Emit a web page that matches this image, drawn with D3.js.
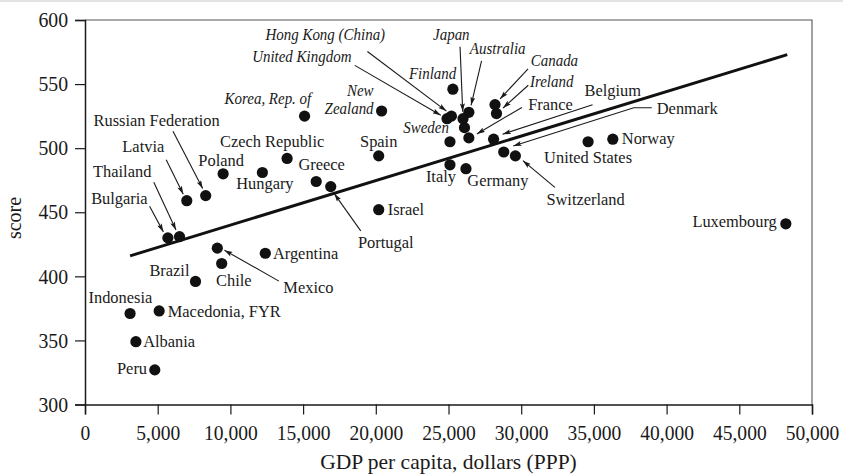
<!DOCTYPE html>
<html>
<head>
<meta charset="utf-8">
<script src="https://cdn.jsdelivr.net/npm/d3@7"></script>
<style>
  html, body { margin: 0; padding: 0; background: #fff; }
  svg { display: block; }
  text { font-family: "Liberation Serif", "Times New Roman", serif; fill: #1a1a1a; }
</style>
</head>
<body>
<script>
// Reading score against GDP per capita (PPP dollars)
const countries = ["Luxembourg", "Norway", "United States", "Switzerland", "Denmark", "Belgium",
  "Canada", "Ireland", "France", "Australia", "Japan", "", "Finland", "Hong Kong (China)",
  "United Kingdom", "Sweden", "Italy", "Germany", "New Zealand", "Spain", "Israel",
  "Korea, Rep. of", "Portugal", "Greece", "Czech Republic", "Hungary", "Poland",
  "Russian Federation", "Latvia", "Thailand", "Bulgaria", "Brazil", "Chile", "Mexico",
  "Argentina", "Indonesia", "Macedonia, FYR", "Albania", "Peru"];
const gdpPerCapita = [48200, 36300, 34600, 29600, 28800, 28100,
  28200, 28300, 26400, 26400, 26000, 26100, 25300, 25200,
  24900, 25100, 25100, 26200, 20400, 20200, 20200,
  15100, 16900, 15900, 13900, 12200, 9500,
  8300, 7000, 6500, 5700, 7600, 9400, 9100,
  12400, 3100, 5100, 3500, 4800];
const scores = [441, 507, 505, 494, 497, 507,
  534, 527, 508, 528, 523, 516, 546, 525,
  523, 505, 487, 484, 529, 494, 452,
  525, 470, 474, 492, 481, 480,
  463, 459, 431, 430, 396, 410, 422,
  418, 371, 373, 349, 327];
const italicNames = ["Hong Kong (China)", "United Kingdom", "Korea, Rep. of", "New Zealand",
  "Finland", "Japan", "Australia", "Canada", "Ireland", "Sweden"];

// fitted trend line endpoints
const fitGdp = [3100, 48300];
const fitScore = [416, 573];

const xTickValues = [0, 5000, 10000, 15000, 20000, 25000, 30000, 35000, 40000, 45000, 50000];
const yTickValues = [300, 350, 400, 450, 500, 550, 600];
const xTitle = "GDP per capita, dollars (PPP)";
const yTitle = "score";

// label placement relative to each dot (pixels), with optional leader paths
const labelLayout = {
  "Luxembourg": { a: "end", dx: -9, dy: 3.5 },
  "Norway": { a: "start", dx: 9, dy: 4.6 },
  "United States": { a: "middle", dx: 0, dy: 21 },
  "Switzerland": { a: "start", dx: 31, dy: 49, path: [[39.5, 31.5], [7.5, 4.8]] },
  "Denmark": { a: "start", dx: 153, dy: -38, path: [[148, -44.3], [130, -44.3], [9.5, -6]] },
  "Belgium": { a: "start", dx: 91, dy: -43.5, path: [[99, -34.5], [9, -5]] },
  "Canada": { a: "start", dx: 35.7, dy: -38.7, path: [[33, -35.7], [5, -5.6]] },
  "Ireland": { a: "start", dx: 33.5, dy: -26.3, path: [[31.8, -28.3], [6.5, -5.5]] },
  "France": { a: "start", dx: 59.3, dy: -28, path: [[53, -30.5], [8, -4]] },
  "Australia": { a: "start", dx: 1, dy: -58.2, path: [[12.7, -51.5], [2.2, -7]] },
  "Japan": { a: "start", dx: -30, dy: -78.7, path: [[-3, -72], [-0.3, -7]] },
  "Finland": { a: "end", dx: 3.4, dy: -10.7 },
  "Hong Kong (China)": { a: "end", dx: -66.3, dy: -76.3, path: [[-84, -64.6], [-5, -5]] },
  "United Kingdom": { a: "end", dx: -95.6, dy: -56.3, path: [[-92.3, -53.3], [-6.3, -3.5]] },
  "Sweden": { a: "end", dx: -1, dy: -9 },
  "Italy": { a: "middle", dx: -9, dy: 17 },
  "Germany": { a: "start", dx: 1.4, dy: 17.7 },
  "New Zealand": { a: "end", dx: -8, dy: -15, lines: ["New", "Zealand"], lh: 18.3 },
  "Spain": { a: "middle", dx: 0, dy: -9.3 },
  "Israel": { a: "start", dx: 9, dy: 5 },
  "Korea, Rep. of": { a: "end", dx: 6.7, dy: -12 },
  "Portugal": { a: "middle", dx: 55, dy: 61, path: [[30, 44.3], [3.5, 7]] },
  "Greece": { a: "middle", dx: 5.5, dy: -11 },
  "Czech Republic": { a: "middle", dx: -15, dy: -11 },
  "Hungary": { a: "middle", dx: 2.5, dy: 16.5 },
  "Poland": { a: "middle", dx: -2, dy: -8.3 },
  "Russian Federation": { a: "middle", dx: -49, dy: -69.3, path: [[-32.7, -64.3], [-3, -7]] },
  "Latvia": { a: "middle", dx: -43.5, dy: -48.3, path: [[-20.6, -41], [-3.5, -6.5]] },
  "Thailand": { a: "middle", dx: -57.3, dy: -60, path: [[-25.7, -54.3], [-3.5, -6.5]] },
  "Bulgaria": { a: "middle", dx: -48.5, dy: -34.3, path: [[-18.3, -31.6], [-4.5, -6]] },
  "Brazil": { a: "end", dx: -6, dy: -5.3 },
  "Chile": { a: "start", dx: -5.6, dy: 22.3 },
  "Mexico": { a: "start", dx: 66, dy: 45.3, path: [[61.6, 33], [7, 2]] },
  "Argentina": { a: "start", dx: 7.6, dy: 6 },
  "Indonesia": { a: "middle", dx: -9.7, dy: -10.7 },
  "Macedonia, FYR": { a: "start", dx: 8.6, dy: 6 },
  "Albania": { a: "start", dx: 7.3, dy: 5.6 },
  "Peru": { a: "end", dx: -7.7, dy: 4 }
};

const W = 843, H = 475;
const plot = { left: 85, right: 812, top: 20, bottom: 404.5 };

const x = d3.scaleLinear().domain([0, 50000]).range([plot.left, plot.right]);
const y = d3.scaleLinear().domain([300, 600]).range([plot.bottom, plot.top]);

const svg = d3.select("body").append("svg").attr("width", W).attr("height", H);

// squeeze text horizontally to a fraction of its natural width
function condense(sel, f) {
  sel.each(function () {
    const w = this.getComputedTextLength();
    d3.select(this).attr("textLength", w * f).attr("lengthAdjust", "spacingAndGlyphs");
  });
}

const defs = svg.append("defs");
defs.append("marker")
  .attr("id", "arrowhead")
  .attr("viewBox", "0 0 10 6")
  .attr("refX", 10).attr("refY", 3)
  .attr("markerWidth", 9).attr("markerHeight", 5)
  .attr("markerUnits", "userSpaceOnUse")
  .attr("orient", "auto")
  .append("path")
  .attr("d", "M0,0L10,3L0,6L2,3Z")
  .attr("fill", "#1a1a1a");

// faint page rule along the top edge
svg.append("line")
  .attr("x1", 0).attr("x2", W).attr("y1", 1).attr("y2", 1)
  .attr("stroke", "#c8c8c8").attr("stroke-width", 1.2);

// top and right frame
svg.append("path")
  .attr("d", `M${plot.left},${plot.top}H${plot.right}V${plot.bottom}`)
  .attr("fill", "none").attr("stroke", "#555").attr("stroke-width", 1.1);

// axes
const xAxis = svg.append("g")
  .attr("transform", `translate(0,${plot.bottom})`)
  .call(d3.axisBottom(x).tickValues(xTickValues).tickSize(10).tickFormat(d3.format(",")));
const yAxis = svg.append("g")
  .attr("transform", `translate(${plot.left},0)`)
  .call(d3.axisLeft(y).tickValues(yTickValues).tickSize(10).tickPadding(7));

[xAxis, yAxis].forEach(g => {
  g.select(".domain").attr("stroke", "#1a1a1a").attr("stroke-width", 1.5);
  g.selectAll(".tick line").attr("stroke", "#1a1a1a").attr("stroke-width", 1.2);
  g.selectAll(".tick text")
    .attr("fill", "#1a1a1a")
    .style("font-family", '"Liberation Serif", serif')
    .style("font-size", "21px");
});
xAxis.attr("font-size", null);
yAxis.attr("font-size", null);
xAxis.selectAll(".tick text").attr("y", 35.5).attr("dy", 0);
condense(xAxis.selectAll(".tick text"), 0.93);
condense(yAxis.selectAll(".tick text"), 0.94);

// axis titles
svg.append("text")
  .attr("x", (plot.left + plot.right) / 2).attr("y", 469)
  .attr("text-anchor", "middle")
  .style("font-size", "21.5px")
  .text(xTitle);
svg.append("text")
  .attr("transform", "translate(21,218) rotate(-90)")
  .attr("text-anchor", "middle")
  .style("font-size", "20px")
  .text(yTitle);

// regression line
svg.append("line")
  .attr("x1", x(fitGdp[0])).attr("y1", y(fitScore[0]))
  .attr("x2", x(fitGdp[1])).attr("y2", y(fitScore[1]))
  .attr("stroke", "#111").attr("stroke-width", 3).attr("stroke-linecap", "butt");

const points = countries.map((name, i) => ({ name, gdp: gdpPerCapita[i], score: scores[i] }));

// leader lines
const leaderGen = d3.line();
svg.append("g").selectAll("path")
  .data(points.filter(p => labelLayout[p.name] && labelLayout[p.name].path))
  .join("path")
  .attr("d", p => {
    const cx = x(p.gdp), cy = y(p.score);
    return leaderGen(labelLayout[p.name].path.map(([dx, dy]) => [cx + dx, cy + dy]));
  })
  .attr("fill", "none")
  .attr("stroke", "#1a1a1a")
  .attr("stroke-width", 1.1)
  .attr("marker-end", "url(#arrowhead)");

// dots
svg.append("g").selectAll("circle")
  .data(points)
  .join("circle")
  .attr("cx", p => x(p.gdp))
  .attr("cy", p => y(p.score))
  .attr("r", 5.6)
  .attr("fill", "#111");

// labels
const labelG = svg.append("g");
points.filter(p => labelLayout[p.name]).forEach(p => {
  const L = labelLayout[p.name];
  const lines = L.lines || [p.name];
  const italic = italicNames.includes(p.name);
  lines.forEach((line, k) => {
    const t = labelG.append("text")
      .attr("x", x(p.gdp) + L.dx)
      .attr("y", y(p.score) + L.dy + k * (L.lh || 0))
      .attr("text-anchor", L.a)
      .style("font-size", "17px")
      .style("font-style", italic ? "italic" : "normal")
      .text(line);
    condense(t, italic ? 0.88 : 0.965);
  });
});
</script>
</body>
</html>
